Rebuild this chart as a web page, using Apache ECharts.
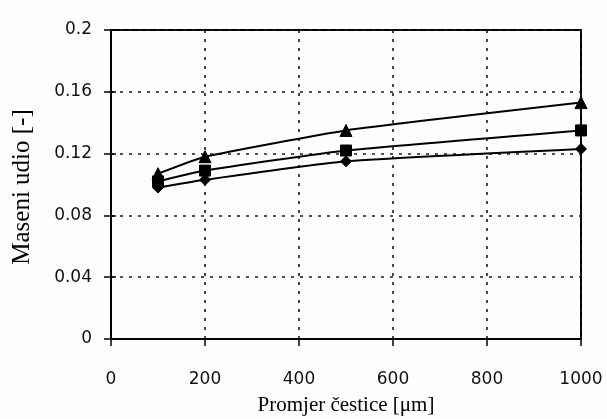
<!DOCTYPE html>
<html>
<head>
<meta charset="utf-8">
<script src="https://cdn.jsdelivr.net/npm/echarts@6/dist/echarts.min.js"></script>
<style>
  html, body { margin: 0; padding: 0; background: #fefefe; }
  #chart { width: 607px; height: 419px; }
</style>
</head>
<body>
<div id="chart"></div>
<script>
// Particle diameter [µm] at which the mass fraction was measured
const diameters = [100, 200, 500, 1000];
// Mass fraction for the three measured series
const seriesTriangle = [0.107, 0.118, 0.135, 0.153];
const seriesSquare   = [0.102, 0.109, 0.122, 0.135];
const seriesDiamond  = [0.098, 0.103, 0.115, 0.123];

const xTicks = [0, 200, 400, 600, 800, 1000];
const yTicks = [0, 0.04, 0.08, 0.12, 0.16, 0.2];

const xTitle = 'Promjer čestice [μm]';
const yTitle = 'Maseni udio [-]';

const numFont = 'DejaVu Sans';
const titleFont = 'Liberation Serif';

const pairs = vals => diameters.map((d, i) => [d, vals[i]]);

const gridDash = { color: '#1a1a1a', width: 1.6, type: [3, 6] };

const chart = echarts.init(document.getElementById('chart'), null, { renderer: 'canvas' });

function lineSeries(name, vals, symbol, size) {
  return {
    name: name,
    type: 'line',
    data: pairs(vals),
    smooth: 0.15,
    symbol: symbol,
    symbolSize: size,
    showSymbol: true,
    lineStyle: { color: '#000', width: 2 },
    itemStyle: { color: '#000', borderColor: '#000' },
    emphasis: { disabled: true },
    z: 5
  };
}

chart.setOption({
  animation: false,
  backgroundColor: '#fefefe',
  grid: {
    left: 111, right: 26, top: 30, bottom: 80,
    show: true, borderColor: '#000', borderWidth: 2
  },
  xAxis: {
    type: 'value',
    min: xTicks[0], max: xTicks[xTicks.length - 1], interval: 200,
    axisLine: { show: true, onZero: false, lineStyle: { color: '#000', width: 2 } },
    axisTick: { show: true, inside: false, length: 7, lineStyle: { color: '#000', width: 1.5 } },
    axisLabel: {
      margin: 32, color: '#111', fontFamily: numFont, fontSize: 17,
      formatter: v => xTicks.includes(v) ? String(v) : ''
    },
    splitLine: { show: true, lineStyle: gridDash }
  },
  yAxis: [{
    type: 'value',
    min: yTicks[0], max: yTicks[yTicks.length - 1], interval: 0.04,
    axisLine: { show: true, lineStyle: { color: '#000', width: 2 } },
    axisTick: { show: true, inside: false, length: 7, lineStyle: { color: '#000', width: 1.5 } },
    axisLabel: {
      margin: 19, color: '#111', fontFamily: numFont, fontSize: 17,
      formatter: v => {
        const t = yTicks.find(y => Math.abs(y - v) < 1e-9);
        return t === undefined ? '' : String(t);
      }
    },
    splitLine: { show: true, lineStyle: gridDash }
  }, {
    // inner half of the crossing tick marks on the left axis
    type: 'value', position: 'left',
    min: yTicks[0], max: yTicks[yTicks.length - 1], interval: 0.04,
    axisLine: { show: false },
    axisTick: { show: true, inside: true, length: 5, lineStyle: { color: '#000', width: 1.5 } },
    axisLabel: { show: false },
    splitLine: { show: false }
  }],
  graphic: [{
    type: 'text',
    x: 346, y: 405,
    style: {
      text: xTitle, fontFamily: titleFont, fontSize: 21, fill: '#000',
      align: 'center', verticalAlign: 'middle'
    }
  }, {
    type: 'text',
    x: 22, y: 187, rotation: Math.PI / 2,
    style: {
      text: yTitle, fontFamily: titleFont, fontSize: 25, fill: '#000',
      align: 'center', verticalAlign: 'middle'
    }
  }],
  series: [
    lineSeries('triangle', seriesTriangle, 'triangle', 12),
    lineSeries('square', seriesSquare, 'rect', 11),
    lineSeries('diamond', seriesDiamond, 'diamond', 11)
  ]
});
</script>
</body>
</html>
